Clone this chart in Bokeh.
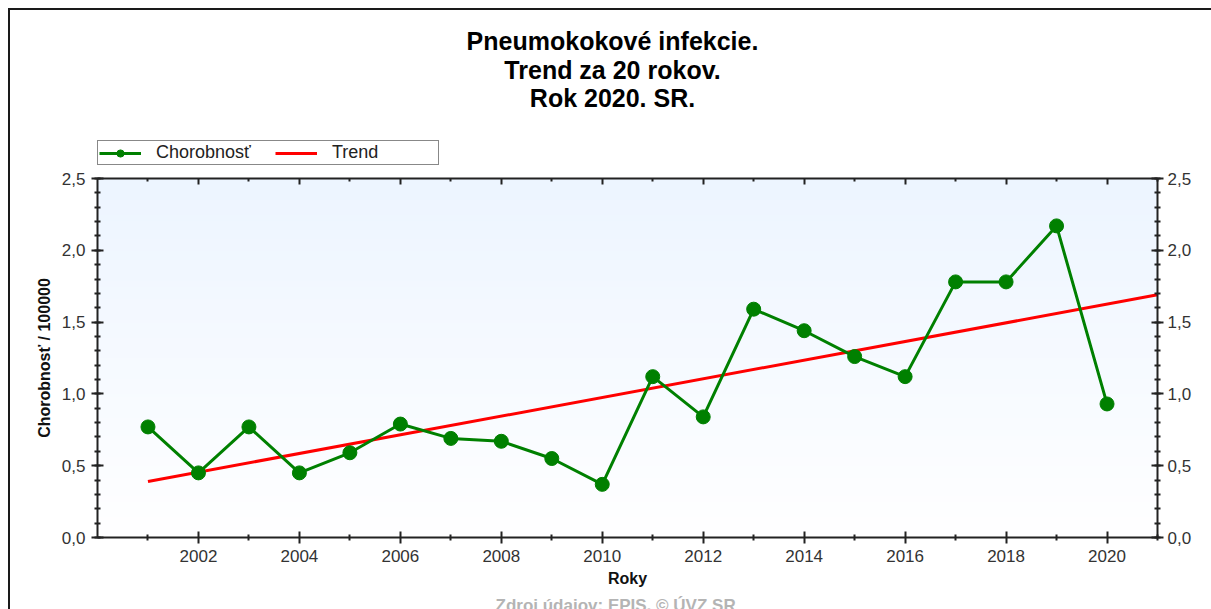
import numpy as np
from bokeh.plotting import figure
from bokeh.layouts import column
from bokeh.models import (LinearAxis, Range1d, FixedTicker, CustomJSTickFormatter,
                          Legend, LegendItem, Label, Title)
from bokeh.embed import file_html
from bokeh.resources import INLINE

# ---- data ----
years = [2001, 2002, 2003, 2004, 2005, 2006, 2007, 2008, 2009, 2010,
         2011, 2012, 2013, 2014, 2015, 2016, 2017, 2018, 2019, 2020]
incidence = [0.77, 0.45, 0.77, 0.45, 0.59, 0.79, 0.69, 0.67, 0.55, 0.37,
             1.12, 0.84, 1.59, 1.44, 1.26, 1.12, 1.78, 1.78, 2.17, 0.93]
trend_years = [2001, 2021]
trend_values = [0.39, 1.69]
x_ticks = [2002, 2004, 2006, 2008, 2010, 2012, 2014, 2016, 2018, 2020]
x_minor = [2001, 2003, 2005, 2007, 2009, 2011, 2013, 2015, 2017, 2019, 2021]
y_ticks = [0.0, 0.5, 1.0, 1.5, 2.0, 2.5]
title_lines = ["Pneumokokové infekcie.", "Trend za 20 rokov.", "Rok 2020. SR."]
series_name = "Chorobnosť"
trend_name = "Trend"
y_label = "Chorobnosť / 100000"
x_label = "Roky"
footer = "Zdroj údajov: EPIS, © ÚVZ SR"

FONT = "Liberation Sans"
X0, X1 = 2000, 2021
Y0, Y1 = 0.0, 2.5
W = 1201
TOP_H = 158
FRAME_W = 1060

GREEN = "#008000"
RED = "#ff0000"
NAN = float("nan")

# ---------------- header figure (titles + legend) ----------------
# its frame is aligned by the column with the chart's frame (same left/right borders)
head = figure(width=W, height=TOP_H, output_backend="svg", toolbar_location=None,
              x_range=Range1d(0, FRAME_W), y_range=Range1d(0, TOP_H),
              min_border_left=87, min_border_right=54, min_border_top=0, min_border_bottom=0,
              x_axis_location=None, y_axis_location=None)
head.outline_line_color = None
head.xgrid.visible = False
head.ygrid.visible = False

title_y = [128, 99, 71]
for txt, ty in zip(title_lines, title_y):
    head.add_layout(Label(x=515, y=ty, text=txt, text_align="center", text_baseline="middle",
                          text_font=FONT, text_font_style="bold", text_font_size="25px",
                          text_color="#000000"))

# legend proxies (styled like the series, nothing drawn)
h_line = head.line([NAN], [NAN], line_color=GREEN, line_width=3)
h_pts = head.scatter([NAN], [NAN], size=14, marker="circle", fill_color=GREEN, line_color=GREEN)
h_trend = head.line([NAN], [NAN], line_color=RED, line_width=3)
legend = Legend(items=[LegendItem(label=series_name, renderers=[h_line, h_pts]),
                       LegendItem(label=trend_name, renderers=[h_trend])],
                location=(0, 3), orientation="horizontal",
                glyph_width=42, glyph_height=18, label_height=18, label_width=105,
                label_standoff=15, spacing=14, padding=1, margin=0,
                border_line_color="#111111", border_line_width=1,
                background_fill_color="white", background_fill_alpha=1,
                label_text_font=FONT, label_text_font_size="18px",
                label_text_color="#222222")
head.add_layout(legend, "center")

# ---------------- main chart ----------------
p = figure(width=W, height=480, output_backend="svg", toolbar_location=None,
           x_range=Range1d(X0, X1), y_range=Range1d(Y0, Y1),
           min_border_left=87, min_border_right=54, min_border_top=10, min_border_bottom=111,
           x_axis_location=None, y_axis_location=None)
p.outline_line_color = None
p.xgrid.visible = False
p.ygrid.visible = False

# background gradient (light blue at top -> white at bottom)
n = 120
t = np.linspace(0, 1, n)
top = np.array([237, 245, 255]); bot = np.array([255, 255, 255])
img = np.empty((n, 1), dtype=np.uint32)
view = img.view(dtype=np.uint8).reshape((n, 1, 4))
for i in range(n):
    c = bot + (top - bot) * t[i]
    view[i, 0, 0] = int(c[0]); view[i, 0, 1] = int(c[1]); view[i, 0, 2] = int(c[2]); view[i, 0, 3] = 255
p.image_rgba(image=[img], x=X0, y=Y0, dw=X1 - X0, dh=Y1 - Y0)

fmt = CustomJSTickFormatter(code="return tick.toFixed(1).replace('.', ',');")
y_minor = [round(v * 0.1, 1) for v in range(0, 26)]

def style_axis(ax):
    ax.axis_line_color = "#222222"
    ax.axis_line_width = 2
    ax.major_tick_line_color = "#222222"
    ax.major_tick_line_width = 2
    ax.minor_tick_line_color = "#222222"
    ax.minor_tick_line_width = 2
    ax.major_label_text_font = FONT
    ax.major_label_text_font_size = "17px"
    ax.major_label_text_color = "#333333"
    ax.axis_label_text_font = FONT
    ax.axis_label_text_font_style = "bold"
    ax.axis_label_text_color = "#111111"

xb = LinearAxis(ticker=FixedTicker(ticks=x_ticks, minor_ticks=x_minor), axis_label=x_label)
style_axis(xb)
xb.major_tick_in = 6; xb.major_tick_out = 6
xb.minor_tick_in = 3; xb.minor_tick_out = 3
xb.major_label_standoff = 6
xb.axis_label_standoff = 5
xb.axis_label_text_font_size = "16px"
p.add_layout(xb, "below")

xt = LinearAxis(ticker=FixedTicker(ticks=x_ticks, minor_ticks=x_minor))
style_axis(xt)
xt.major_tick_in = 6; xt.major_tick_out = 0
xt.minor_tick_in = 3; xt.minor_tick_out = 0
xt.major_label_standoff = 0
xt.major_label_text_font_size = "0px"
xt.major_label_text_color = None
p.add_layout(xt, "above")

yl = LinearAxis(ticker=FixedTicker(ticks=y_ticks, minor_ticks=y_minor), formatter=fmt,
                axis_label=y_label)
style_axis(yl)
yl.major_tick_in = 6; yl.major_tick_out = 6
yl.minor_tick_in = 3; yl.minor_tick_out = 3
yl.major_label_standoff = 6
yl.axis_label_standoff = 6
yl.axis_label_text_font_size = "16px"
p.add_layout(yl, "left")

yr = LinearAxis(ticker=FixedTicker(ticks=y_ticks, minor_ticks=y_minor), formatter=fmt)
style_axis(yr)
yr.major_tick_in = 6; yr.major_tick_out = 6
yr.minor_tick_in = 3; yr.minor_tick_out = 3
yr.major_label_standoff = 4
p.add_layout(yr, "right")

# series
p.line(trend_years, trend_values, line_color=RED, line_width=3)
p.line(years, incidence, line_color=GREEN, line_width=3)
p.scatter(years, incidence, size=14, marker="circle", fill_color=GREEN, line_color=GREEN)

p.add_layout(Title(text=footer, align="left", offset=398, text_font=FONT,
                   text_font_style="bold", text_font_size="17px", text_color="#b4b4b4",
                   standoff=9), "below")

layout = column(head, p, spacing=0)
layout.styles = {"border-top": "2px solid #1a1a1a", "border-left": "2px solid #1a1a1a",
                 "margin-top": "8px", "margin-left": "8px"}

open("out.html", "w").write(file_html(layout, INLINE))
